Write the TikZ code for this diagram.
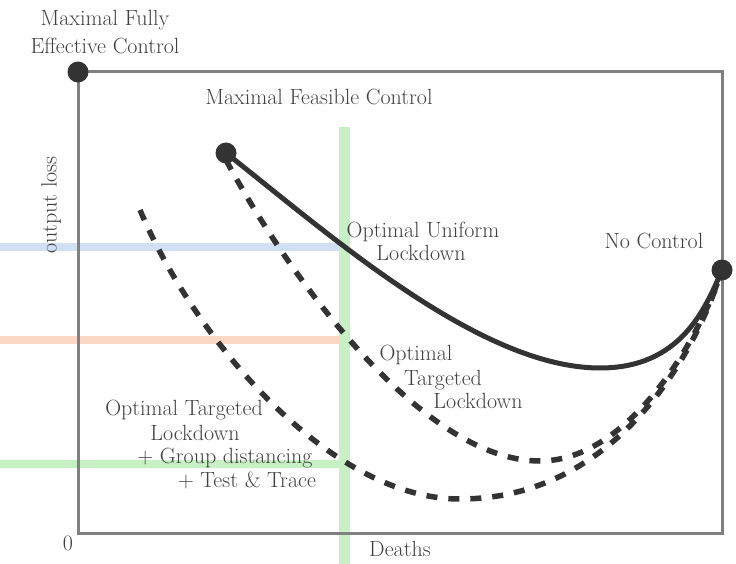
\documentclass[tikz,border=0pt]{standalone}
\begin{document}
\begin{tikzpicture}[x=1pt,y=-1pt,
  lbl/.style={text=black!75, font=\fontsize{22}{26}\selectfont, inner sep=0pt, text height=0.7em, text depth=0.2em, yshift=-3pt},
  dotnode/.style={circle, fill=black!80, minimum size=21pt, inner sep=0pt},
  frameline/.style={draw=black!50, line width=3pt},
  curve/.style={draw=black!80, line width=5pt},
  dashcurve/.style={draw=black!80, line width=5.5pt, dash pattern=on 11pt off 11pt},
  bar/.style={line width=8pt}]
\useasboundingbox (0,0) rectangle (736,564);
\definecolor{barblue}{HTML}{CFE0F2}
\definecolor{barorange}{HTML}{FAD8C5}
\definecolor{bargreen}{HTML}{C8F0C5}
% coloured bars
\coordinate (bl) at (0,247);
\coordinate (br) at (344,247);
\coordinate (ol) at (0,340);
\coordinate (or) at (347,340);
\coordinate (gl) at (0,464);
\coordinate (gr) at (344,464);
\coordinate (vt) at (344,127);
\coordinate (vb) at (344,564);
\draw[bar, barblue] (bl) -- (br);
\draw[bar, barorange] (ol) -- (or);
\draw[bar, bargreen] (gl) -- (gr);
\draw[bargreen, line width=11pt] (vt) -- (vb);
% frame
\coordinate (ftl) at (78,72);
\coordinate (fbr) at (722,533);
\draw[frameline] (ftl) rectangle (fbr);
% dots
\node[dotnode] (mfe) at (78,72) {};
\node[dotnode] (mfc) at (226,153) {};
\node[dotnode] (nc) at (722,270) {};
\coordinate (ds1) at (226,160);
\coordinate (ds2) at (140,210);
\coordinate (m1) at (540,461);
\coordinate (m2) at (460,499);
\coordinate (ms) at (600,368);
\coordinate (ncd) at (720,276);
% curves
\draw[dashcurve] (ds1) .. controls (285,270) and (420,461) .. (m1)
  .. controls (620,461) and (690,360) .. (ncd);
\draw[dashcurve] (ds2) .. controls (195,340) and (330,499) .. (m2)
  .. controls (600,499) and (685,380) .. (ncd);
\draw[curve] (mfc.center) .. controls (330,235) and (480,368) .. (ms)
  .. controls (680,368) and (705,310) .. (nc.center);
% labels
\node[lbl] (t1) at (105,20) {Maximal Fully};
\node[lbl] (t2) at (105,48) {Effective Control};
\node[lbl] (t3) at (319,99) {Maximal Feasible Control};
\node[lbl] (t4) at (654,243) {No Control};
\node[lbl] (t5) at (423,232) {Optimal Uniform};
\node[lbl] (t6) at (421,255) {Lockdown};
\node[lbl] (t7) at (416,355) {Optimal};
\node[lbl] (t8) at (443,380) {Targeted};
\node[lbl] (t9) at (478,403) {Lockdown};
\node[lbl] (t10) at (184,410) {Optimal Targeted};
\node[lbl] (t11) at (195,435) {Lockdown};
\node[lbl] (t12) at (225,458) {+ Group distancing};
\node[lbl] (t13) at (247,482) {+ Test \& Trace};
\node[lbl, rotate=90, yshift=3pt, xshift=3pt] (t14) at (57,205) {output loss};
\node[lbl] (t15) at (68,545) {0};
\node[lbl] (t16) at (400,551) {Deaths};
\end{tikzpicture}
\end{document}
